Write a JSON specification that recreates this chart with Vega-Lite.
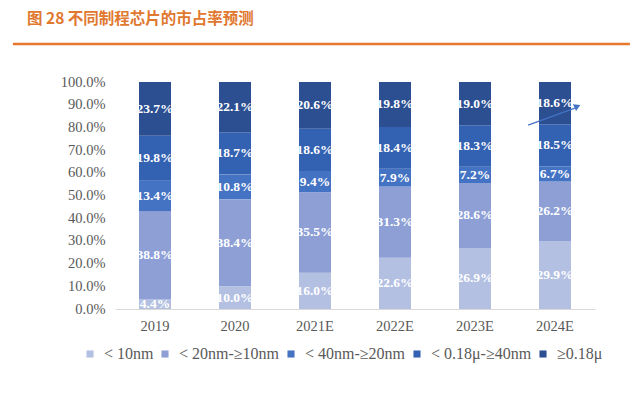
{
  "$schema": "https://vega.github.io/schema/vega-lite/v6.json",
  "description": "不同制程芯片的市占率预测",
  "width": 480,
  "height": 227,
  "autosize": "none",
  "padding": {"left": 115, "top": 82, "right": 45, "bottom": 95},
  "background": "white",
  "title": {
    "text": "图 28 不同制程芯片的市占率预测",
    "anchor": "start",
    "frame": "group",
    "dx": -88,
    "offset": 15,
    "font": "Noto Sans CJK SC",
    "fontSize": 15.5,
    "fontWeight": "bold",
    "color": "#e0782f"
  },
  "data": {
    "values": [
      {"year": "2019", "node": "< 10nm", "share": 4.4},
      {"year": "2019", "node": "< 20nm-≥10nm", "share": 38.8},
      {"year": "2019", "node": "< 40nm-≥20nm", "share": 13.4},
      {"year": "2019", "node": "< 0.18μ-≥40nm", "share": 19.8},
      {"year": "2019", "node": "≥0.18μ", "share": 23.7},
      {"year": "2020", "node": "< 10nm", "share": 10.0},
      {"year": "2020", "node": "< 20nm-≥10nm", "share": 38.4},
      {"year": "2020", "node": "< 40nm-≥20nm", "share": 10.8},
      {"year": "2020", "node": "< 0.18μ-≥40nm", "share": 18.7},
      {"year": "2020", "node": "≥0.18μ", "share": 22.1},
      {"year": "2021E", "node": "< 10nm", "share": 16.0},
      {"year": "2021E", "node": "< 20nm-≥10nm", "share": 35.5},
      {"year": "2021E", "node": "< 40nm-≥20nm", "share": 9.4},
      {"year": "2021E", "node": "< 0.18μ-≥40nm", "share": 18.6},
      {"year": "2021E", "node": "≥0.18μ", "share": 20.6},
      {"year": "2022E", "node": "< 10nm", "share": 22.6},
      {"year": "2022E", "node": "< 20nm-≥10nm", "share": 31.3},
      {"year": "2022E", "node": "< 40nm-≥20nm", "share": 7.9},
      {"year": "2022E", "node": "< 0.18μ-≥40nm", "share": 18.4},
      {"year": "2022E", "node": "≥0.18μ", "share": 19.8},
      {"year": "2023E", "node": "< 10nm", "share": 26.9},
      {"year": "2023E", "node": "< 20nm-≥10nm", "share": 28.6},
      {"year": "2023E", "node": "< 40nm-≥20nm", "share": 7.2},
      {"year": "2023E", "node": "< 0.18μ-≥40nm", "share": 18.3},
      {"year": "2023E", "node": "≥0.18μ", "share": 19.0},
      {"year": "2024E", "node": "< 10nm", "share": 29.9},
      {"year": "2024E", "node": "< 20nm-≥10nm", "share": 26.2},
      {"year": "2024E", "node": "< 40nm-≥20nm", "share": 6.7},
      {"year": "2024E", "node": "< 0.18μ-≥40nm", "share": 18.5},
      {"year": "2024E", "node": "≥0.18μ", "share": 18.6}
    ]
  },
  "transform": [
    {"calculate": "indexof(['< 10nm', '< 20nm-≥10nm', '< 40nm-≥20nm', '< 0.18μ-≥40nm', '≥0.18μ'], datum.node)", "as": "rank"},
    {"stack": "share", "groupby": ["year"], "sort": [{"field": "rank", "order": "ascending"}], "offset": "normalize", "as": ["y0", "y1"]},
    {"calculate": "(datum.y0 + datum.y1) / 2", "as": "ymid"},
    {"calculate": "format(datum.share, '.1f') + '%'", "as": "label"}
  ],
  "encoding": {
    "x": {
      "field": "year",
      "type": "ordinal",
      "sort": null,
      "title": null,
      "scale": {"paddingInner": 0.6, "paddingOuter": 0.3},
      "axis": {
        "labelAngle": 0,
        "labelFont": "Liberation Serif",
        "labelFontSize": 14.5,
        "labelColor": "#595959",
        "labelPadding": 10,
        "ticks": false,
        "domainColor": "#d9d9d9",
        "domainWidth": 1.2
      }
    }
  },
  "layer": [
    {
      "mark": {"type": "bar"},
      "encoding": {
        "y": {
          "field": "y0",
          "type": "quantitative",
          "title": null,
          "scale": {"domain": [0, 1], "nice": false},
          "axis": {
            "values": [0, 0.1, 0.2, 0.3, 0.4, 0.5, 0.6, 0.7, 0.8, 0.9, 1],
            "tickCount": 11,
            "labelOverlap": false,
            "labelSeparation": 0,
            "format": ".1%"
          }
        },
        "y2": {"field": "y1"},
        "color": {
          "field": "node",
          "type": "nominal",
          "title": null,
          "scale": {
            "domain": ["< 10nm", "< 20nm-≥10nm", "< 40nm-≥20nm", "< 0.18μ-≥40nm", "≥0.18μ"],
            "range": ["#b4c0e2", "#8d9fd5", "#4573c4", "#3462b2", "#2c4f92"]
          },
          "legend": {
            "orient": "none",
            "direction": "horizontal",
            "legendX": -33,
            "legendY": 264,
            "symbolType": "square",
            "symbolSize": 50,
            "symbolStrokeWidth": 0,
            "labelFont": "Liberation Serif",
            "labelFontSize": 16,
            "labelColor": "#595959",
            "labelOffset": 6,
            "columnPadding": 3
          }
        }
      }
    },
    {
      "mark": {"type": "text", "color": "white", "font": "Liberation Serif", "fontSize": 13.5, "fontWeight": "bold"},
      "encoding": {
        "y": {
          "field": "ymid",
          "type": "quantitative",
          "axis": {
            "values": [0, 0.1, 0.2, 0.3, 0.4, 0.5, 0.6, 0.7, 0.8, 0.9, 1],
            "tickCount": 11,
            "labelOverlap": false,
            "labelSeparation": 0,
            "format": ".1%"
          }
        },
        "text": {"field": "label", "type": "nominal"},
        "detail": {"field": "node"}
      }
    },
    {
      "transform": [{"filter": "datum.year == '2019' && datum.rank == 0"}],
      "mark": {"type": "rule", "color": "#e8772e", "strokeWidth": 2.5},
      "encoding": {
        "x": {"datum": "2019", "bandPosition": -3.94},
        "x2": {"datum": "2024E", "bandPosition": 2.84},
        "y": {"datum": 1.167}
      }
    },
    {
      "transform": [{"filter": "datum.year == '2019' && datum.rank == 0"}],
      "mark": {"type": "rule", "color": "#4472c4", "strokeWidth": 1.2},
      "encoding": {
        "x": {"datum": "2024E", "bandPosition": -0.34},
        "x2": {"datum": "2024E", "bandPosition": 1.12},
        "y": {"datum": 0.81},
        "y2": {"datum": 0.885}
      }
    },
    {
      "transform": [{"filter": "datum.year == '2019' && datum.rank == 0"}],
      "mark": {"type": "point", "shape": "triangle-right", "filled": true, "color": "#4472c4", "size": 55, "angle": 335, "opacity": 1},
      "encoding": {
        "x": {"datum": "2024E", "bandPosition": 1.2},
        "y": {"datum": 0.893}
      }
    }
  ],
  "config": {
    "view": {"stroke": null},
    "axisY": {
      "labelFont": "Liberation Serif",
      "labelFontSize": 14.5,
      "labelColor": "#595959",
      "labelPadding": 10,
      "labelOverlap": false,
      "domain": false,
      "ticks": false,
      "grid": false
    }
  }
}
